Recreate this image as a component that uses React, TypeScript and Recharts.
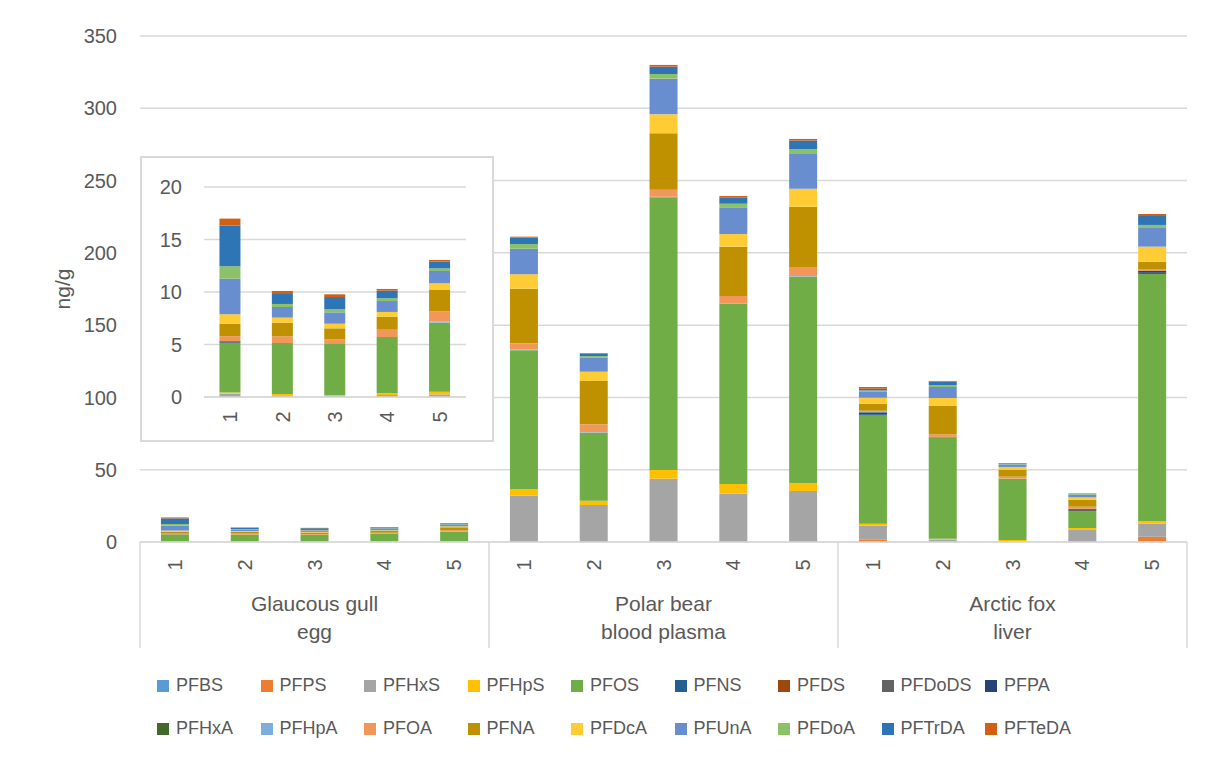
import { Bar, BarChart, CartesianGrid, Label, XAxis, YAxis } from "recharts";

// samples 1-5 for each of the three groups (gull egg, bear plasma, fox liver)
const SAMPLES = ["1", "2", "3", "4", "5", "1", "2", "3", "4", "5", "1", "2", "3", "4", "5"];
const GROUPS = [
  ["Glaucous gull", "egg"],
  ["Polar bear", "blood plasma"],
  ["Arctic fox", "liver"],
];
const Y_TICKS = [0, 50, 100, 150, 200, 250, 300, 350];
const INSET_TICKS = [0, 5, 10, 15, 20];

const PFBS = [0, 0, 0, 0, 0, 0, 0, 0, 0, 0, 0, 0, 0, 0, 0];
const PFPS = [0, 0, 0, 0, 0, 0, 0, 0, 0, 0, 1.8, 0, 0, 0, 3.6];
const PFHxS = [0.32, 0.16, 0.1, 0.19, 0.25, 32, 25.6, 43.8, 33.4, 35.3, 9.5, 1.5, 0.3, 8.8, 9.1];
const PFHpS = [0.1, 0.13, 0.06, 0.19, 0.26, 4.7, 3, 6, 6.7, 5.3, 1.4, 0.7, 1.1, 0.9, 1.8];
const PFOS = [4.76, 4.85, 4.89, 5.33, 6.57, 96, 47, 188.6, 124.7, 142.9, 75.1, 69.7, 42.4, 11.7, 170.9];
const PFNS = [0, 0, 0, 0, 0, 0, 0, 0, 0, 0, 0.6, 0, 0, 0, 0.8];
const PFDS = [0, 0, 0, 0, 0, 0, 0, 0, 0, 0, 0, 0, 0, 0, 0];
const PFDoDS = [0, 0, 0, 0, 0, 0, 0, 0, 0, 0, 0, 0.5, 0, 1.6, 0];
const PFPA = [0.13, 0, 0, 0, 0, 0, 0, 0, 0, 0, 1.3, 0, 0, 0, 1.5];
const PFHxA = [0, 0, 0, 0, 0, 0, 0, 0, 0, 0, 0, 0, 0, 0, 0];
const PFHpA = [0, 0, 0, 0, 0.09, 0.5, 0.4, 0.4, 0.4, 0.4, 0.3, 0.3, 0, 0, 0];
const PFOA = [0.48, 0.64, 0.44, 0.7, 0.99, 4.2, 5.4, 4.9, 5, 6.3, 0.8, 1.8, 1.4, 1.4, 1.1];
const PFNA = [1.2, 1.3, 1.05, 1.24, 2.03, 37.8, 30, 39, 34.1, 41.7, 4.9, 19.6, 4.8, 4.9, 5.1];
const PFDcA = [0.89, 0.48, 0.44, 0.45, 0.64, 10, 6.4, 13.1, 8.7, 12.5, 4.1, 5.5, 1.9, 1.6, 10.4];
const PFUnA = [3.4, 1.01, 1.08, 1.04, 1.17, 17.7, 9.9, 24.7, 18.5, 24.5, 4.4, 7.6, 1.8, 1.8, 13.4];
const PFDoA = [1.17, 0.29, 0.29, 0.26, 0.25, 3.2, 0.9, 3.2, 2.5, 2.9, 0.6, 1.4, 0.3, 0.4, 1.6];
const PFTrDA = [3.88, 0.95, 1.17, 0.73, 0.64, 4.4, 1.7, 5.1, 4.4, 5.9, 1.2, 2.3, 0.4, 0.3, 6.2];
const PFTeDA = [0.66, 0.29, 0.26, 0.16, 0.16, 0.7, 0.4, 1.2, 0.9, 1.1, 1.2, 0.5, 0.2, 0.2, 1.4];

const SERIES = [
  { name: "PFBS", color: "#5B9BD5", values: PFBS },
  { name: "PFPS", color: "#ED7D31", values: PFPS },
  { name: "PFHxS", color: "#A5A5A5", values: PFHxS },
  { name: "PFHpS", color: "#FFC000", values: PFHpS },
  { name: "PFOS", color: "#70AD47", values: PFOS },
  { name: "PFNS", color: "#255E91", values: PFNS },
  { name: "PFDS", color: "#9E480E", values: PFDS },
  { name: "PFDoDS", color: "#636363", values: PFDoDS },
  { name: "PFPA", color: "#264478", values: PFPA },
  { name: "PFHxA", color: "#43682B", values: PFHxA },
  { name: "PFHpA", color: "#7CAFDD", values: PFHpA },
  { name: "PFOA", color: "#F1975A", values: PFOA },
  { name: "PFNA", color: "#BF9000", values: PFNA },
  { name: "PFDcA", color: "#FFCD33", values: PFDcA },
  { name: "PFUnA", color: "#698ED0", values: PFUnA },
  { name: "PFDoA", color: "#8CC168", values: PFDoA },
  { name: "PFTrDA", color: "#2E75B6", values: PFTrDA },
  { name: "PFTeDA", color: "#D26013", values: PFTeDA },
];

const rows = SAMPLES.map((sample, i) => {
  const row: Record<string, string | number> = { sample };
  SERIES.forEach((s) => (row[s.name] = s.values[i]));
  return row;
});
const gullRows = rows.slice(0, 5);

const FONT = "'Liberation Sans', Arial, sans-serif";
const TEXT = "#595959";
const GRID = "#d9d9d9";
const BAND = 1047 / 15;

function MainTick(props: any) {
  const { x, y, payload, index } = props;
  const ty = y + 23;
  const group = GROUPS[Math.floor(index / 5)];
  return (
    <g>
      <text
        x={x}
        y={ty}
        transform={`rotate(-90 ${x} ${ty})`}
        textAnchor="middle"
        dominantBaseline="central"
        fill={TEXT}
        fontSize={20}
      >
        {payload.value}
      </text>
      {index % 5 === 2 && (
        <text x={x} textAnchor="middle" fill={TEXT} fontSize={21}>
          <tspan x={x} y={y + 69}>{group[0]}</tspan>
          <tspan x={x} y={y + 97}>{group[1]}</tspan>
        </text>
      )}
      {index % 5 === 0 && (
        <line x1={x - BAND / 2} x2={x - BAND / 2} y1={y} y2={y + 106} stroke={GRID} strokeWidth={1.5} />
      )}
      {index === 14 && (
        <line x1={x + BAND / 2} x2={x + BAND / 2} y1={y} y2={y + 106} stroke={GRID} strokeWidth={1.5} />
      )}
    </g>
  );
}

function InsetTick(props: any) {
  const { x, y, payload } = props;
  const ty = y + 20;
  return (
    <text
      x={x}
      y={ty}
      transform={`rotate(-90 ${x} ${ty})`}
      textAnchor="middle"
      dominantBaseline="central"
      fill={TEXT}
      fontSize={20}
    >
      {payload.value}
    </text>
  );
}

function UnitLabel(props: any) {
  const { viewBox } = props;
  const cx = viewBox.x + 54;
  const cy = viewBox.y + viewBox.height / 2;
  return (
    <text
      x={cx}
      y={cy}
      transform={`rotate(-90 ${cx} ${cy})`}
      textAnchor="middle"
      dominantBaseline="central"
      fill={TEXT}
      fontSize={21}
    >
      ng/g
    </text>
  );
}

function bars() {
  return SERIES.map((s) => (
    <Bar key={s.name} dataKey={s.name} stackId="a" fill={s.color} isAnimationActive={false} />
  ));
}

export default function App() {
  return (
    <div style={{ position: "relative", width: 1196, height: 742, fontFamily: FONT, background: "#fff" }}>
      <div
        style={{
          position: "absolute",
          left: -1,
          top: -1,
          width: 1197,
          height: 743,
          borderLeft: `1.5px solid ${GRID}`,
          borderTop: `1.5px solid ${GRID}`,
          boxSizing: "border-box",
        }}
      />
      <div style={{ position: "absolute", left: 0, top: 0 }}>
        <BarChart
          width={1196}
          height={742}
          data={rows}
          margin={{ top: 28, right: 17, left: 0, bottom: 102 }}
          barCategoryGap="30%"
        >
          <CartesianGrid vertical={false} stroke={GRID} strokeWidth={1.5} />
          <XAxis
            dataKey="sample"
            interval={0}
            axisLine={{ stroke: GRID, strokeWidth: 1.5 }}
            tickLine={false}
            tickSize={0}
            tickMargin={0}
            height={106}
            tick={<MainTick />}
          />
          <YAxis
            domain={[0, 350]}
            ticks={Y_TICKS}
            width={132}
            axisLine={false}
            tickLine={false}
            tickSize={0}
            tickMargin={23}
            tick={{ fill: TEXT, fontSize: 20 }}
          >
            <Label content={<UnitLabel />} />
          </YAxis>
          {bars()}
        </BarChart>
      </div>

      <div
        style={{
          position: "absolute",
          left: 132,
          top: 148,
          width: 354,
          height: 286,
          border: `2px solid ${GRID}`,
          boxSizing: "border-box",
          background: "#fff",
        }}
      >
        <BarChart
          width={350}
          height={282}
          data={gullRows}
          margin={{ top: 29, right: 26, left: 0, bottom: 0 }}
          barCategoryGap="29.5%"
        >
          <CartesianGrid vertical={false} stroke={GRID} strokeWidth={1.5} />
          <XAxis
            dataKey="sample"
            interval={0}
            axisLine={{ stroke: GRID, strokeWidth: 1.5 }}
            tickLine={false}
            tickSize={0}
            tickMargin={0}
            height={43}
            tick={<InsetTick />}
          />
          <YAxis
            domain={[0, 20]}
            ticks={INSET_TICKS}
            width={62}
            axisLine={false}
            tickLine={false}
            tickSize={0}
            tickMargin={22}
            tick={{ fill: TEXT, fontSize: 20 }}
          />
          {bars()}
        </BarChart>
      </div>

      <div
        style={{
          position: "absolute",
          left: 149,
          top: 656,
          display: "grid",
          gridTemplateColumns: "repeat(9, 103.5px)",
          gridAutoRows: "43px",
        }}
      >
        {SERIES.map((s) => (
          <div key={s.name} style={{ display: "flex", alignItems: "center" }}>
            <span style={{ width: 12, height: 12, background: s.color, marginRight: 7, flex: "none" }} />
            <span style={{ fontSize: 18, color: TEXT }}>{s.name}</span>
          </div>
        ))}
      </div>
    </div>
  );
}
